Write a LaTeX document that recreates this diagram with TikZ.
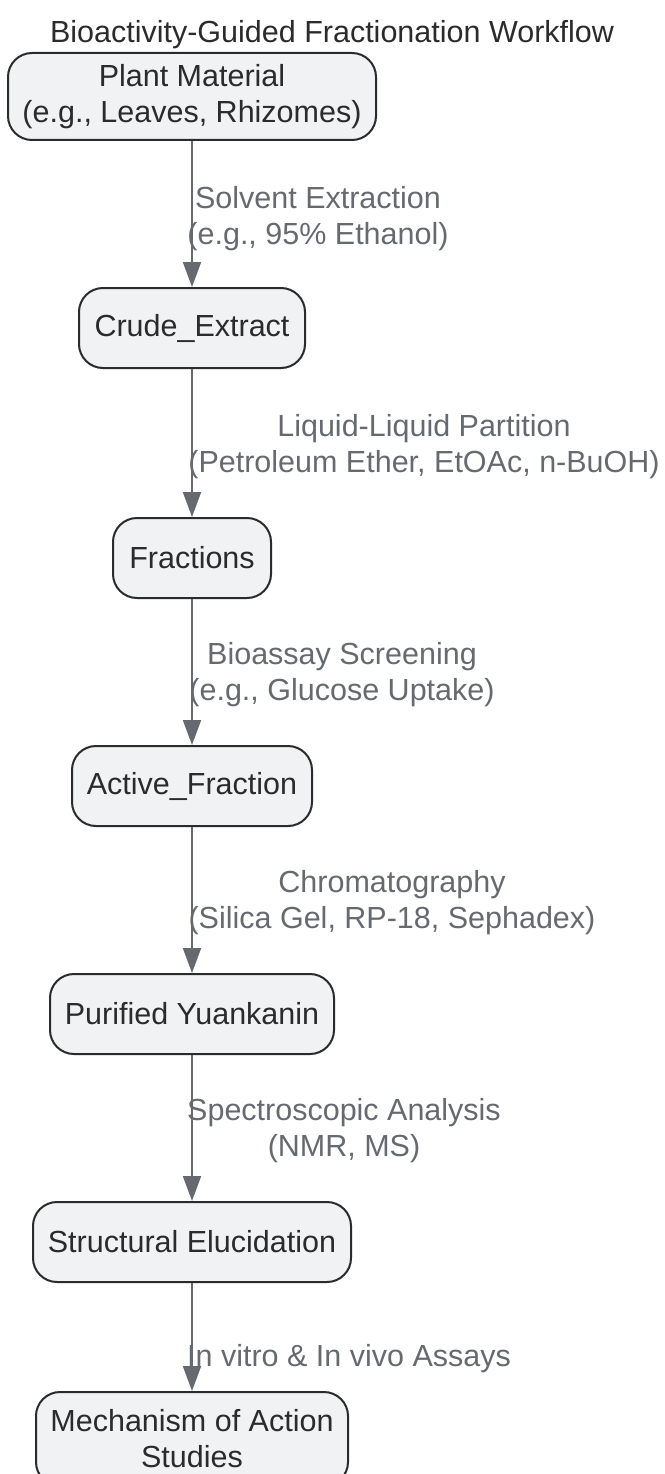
\documentclass[tikz,border=0pt]{standalone}
\usepackage{fontspec}
\setmainfont{Liberation Sans}
\usetikzlibrary{arrows.meta}
\definecolor{nodefill}{HTML}{F1F2F4}
\definecolor{nodeline}{HTML}{2B2B2B}
\definecolor{edgecol}{HTML}{666A70}
\definecolor{txt}{HTML}{2B2B2B}
\tikzset{
  box/.style={draw=nodeline, fill=nodefill, line width=2pt, rounded corners=24pt,
    text=txt, font=\fontsize{30.5}{36}\selectfont, align=center, inner sep=0pt},
  elabel/.style={text=edgecol, font=\fontsize{30.5}{36}\selectfont, align=center, inner sep=0pt},
  flow/.style={draw=edgecol, line width=2pt, -{Triangle[length=25pt,width=18pt]}},
}
\begin{document}
\begin{tikzpicture}[x=1pt,y=-1pt]
\useasboundingbox (0,0) rectangle (664,1474);
\node[text=txt, font=\fontsize{30.5}{36}\selectfont, inner sep=0pt] (title) at (332,35) {Bioactivity-Guided Fractionation Workflow};
\node[box, minimum width=368pt, minimum height=87pt] (n1) at (192,96.5) {Plant Material\\(e.g., Leaves, Rhizomes)};
\node[box, minimum width=226pt, minimum height=80pt] (n2) at (192,328) {Crude\_Extract};
\node[box, minimum width=158pt, minimum height=80pt] (n3) at (192,558) {Fractions};
\node[box, minimum width=240pt, minimum height=80pt] (n4) at (192,786) {Active\_Fraction};
\node[box, minimum width=284pt, minimum height=80pt] (n5) at (192,1014) {Purified Yuankanin};
\node[box, minimum width=318pt, minimum height=80pt] (n6) at (192,1242) {Structural Elucidation};
\node[box, minimum width=312pt, minimum height=94pt] (n7) at (192,1439) {Mechanism of Action\\Studies};
\draw[flow] (n1.south) -- (n2.north);
\draw[flow] (n2.south) -- (n3.north);
\draw[flow] (n3.south) -- (n4.north);
\draw[flow] (n4.south) -- (n5.north);
\draw[flow] (n5.south) -- (n6.north);
\draw[flow] (n6.south) -- (n7.north);
\node[elabel] (l1) at (318,219) {Solvent Extraction\\(e.g., 95\% Ethanol)};
\node[elabel] (l2) at (424,447) {Liquid-Liquid Partition\\(Petroleum Ether, EtOAc, n-BuOH)};
\node[elabel] (l3) at (342,675) {Bioassay Screening\\(e.g., Glucose Uptake)};
\node[elabel] (l4) at (392,903) {Chromatography\\(Silica Gel, RP-18, Sephadex)};
\node[elabel] (l5) at (344,1131) {Spectroscopic Analysis\\(NMR, MS)};
\node[elabel] (l6) at (349,1359) {In vitro \& In vivo Assays};
\end{tikzpicture}
\end{document}
